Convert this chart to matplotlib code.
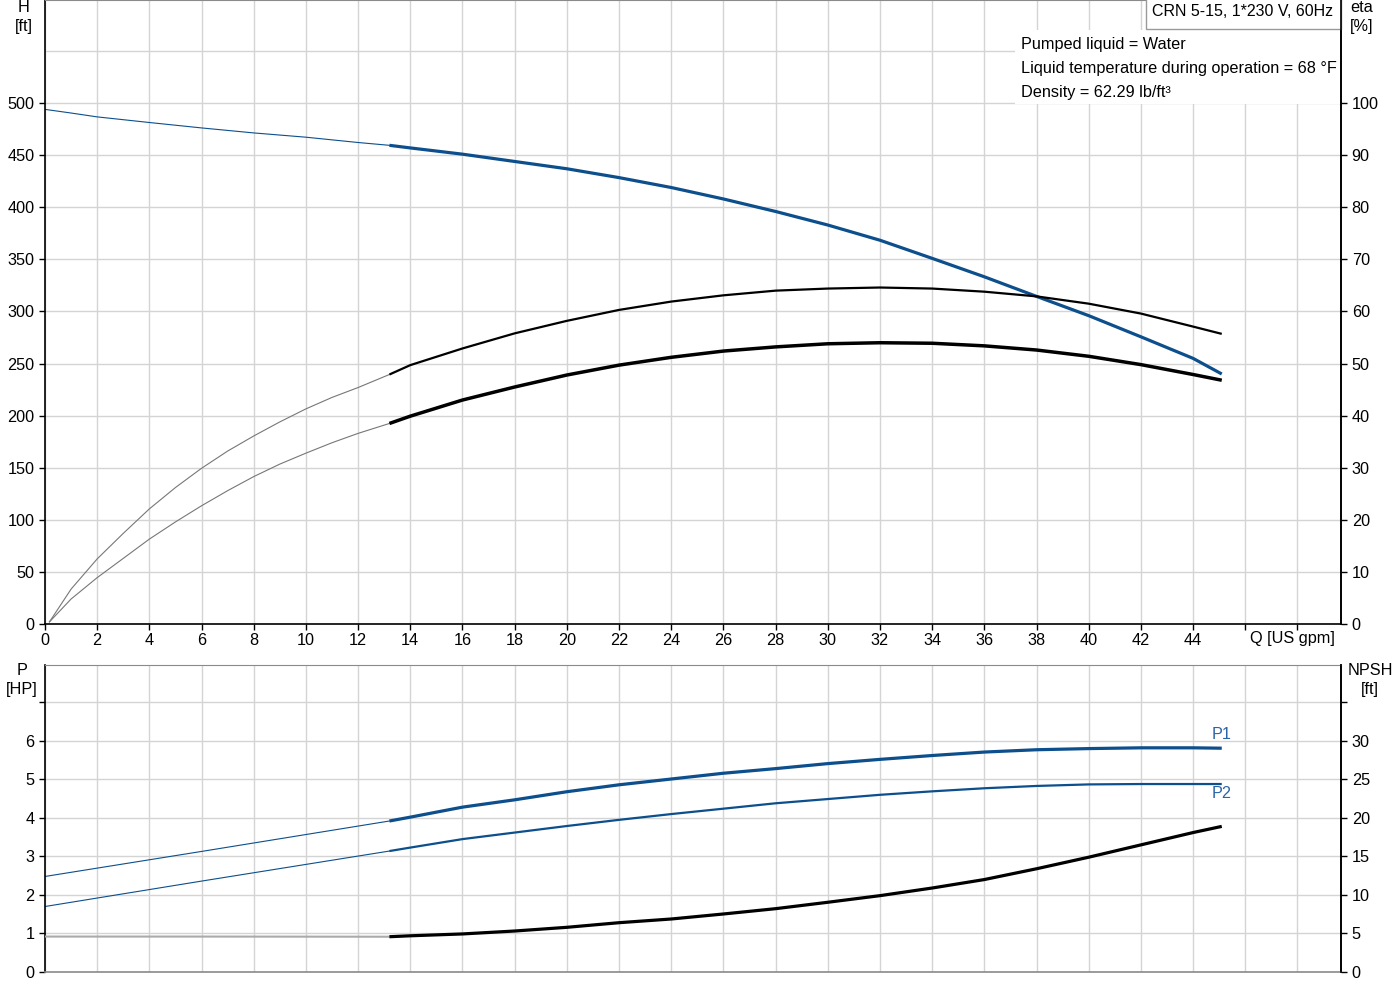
import numpy as np
import matplotlib
matplotlib.use("Agg")
import matplotlib.pyplot as plt
from matplotlib.patches import Rectangle

plt.rcParams['font.family'] = ['Liberation Sans', 'DejaVu Sans']
plt.rcParams['font.size'] = 11.7

# ================= data =================
q_thin = [0, 1, 2, 4, 6, 8, 10, 12, 13.2]
q_eta_thin = [0.17, 1, 2, 3, 4, 5, 6, 7, 8, 9, 10, 11, 12, 13.2]
q_thick = [13.2, 14, 16, 18, 20, 22, 24, 26, 28, 30, 32, 34, 36, 38, 40, 42, 44, 45.1]

# head [ft]
h_thin = [494, 490.5, 486.8, 481.4, 476.2, 471.4, 467.3, 462.2, 459.5]
h_thick = [459.5, 457, 451, 444, 437, 428.5, 419, 408, 396, 383, 368.4, 351,
           333.3, 314.5, 296, 275.7, 255, 240]

# efficiency [%]
eta_thin = [0.4, 6.7, 12.5, 17.4, 22.1, 26.2, 29.9, 33.2, 36.1, 38.8, 41.3, 43.5, 45.4, 47.9]
eta_thick = [47.9, 49.7, 52.9, 55.8, 58.2, 60.3, 61.9, 63.1, 64.0, 64.4, 64.6,
             64.4, 63.8, 62.9, 61.5, 59.6, 57.1, 55.7]
eta_tot_thin = [0.4, 4.8, 8.9, 12.6, 16.3, 19.6, 22.7, 25.6, 28.3, 30.7, 32.8, 34.8, 36.6, 38.5]
eta_tot_thick = [38.5, 39.9, 43.0, 45.5, 47.8, 49.7, 51.2, 52.4, 53.2, 53.8, 54.0,
                 53.9, 53.4, 52.6, 51.4, 49.8, 47.9, 46.8]

# power [HP]
q_p_thin = [0, 6, 13.2]
p1_thin = [2.48, 3.13, 3.92]
p1_thick = [3.92, 4.02, 4.28, 4.47, 4.68, 4.86, 5.01, 5.16, 5.28, 5.41, 5.52,
            5.62, 5.71, 5.77, 5.80, 5.82, 5.82, 5.81]
p2_thin = [1.70, 2.36, 3.14]
p2_thick = [3.14, 3.23, 3.45, 3.62, 3.79, 3.95, 4.10, 4.24, 4.38, 4.49, 4.60,
            4.69, 4.77, 4.83, 4.87, 4.88, 4.88, 4.88]

# NPSH [ft]
npsh_thin = [4.6, 4.6, 4.58]
npsh_thick = [4.58, 4.7, 4.94, 5.32, 5.8, 6.4, 6.88, 7.53, 8.22, 9.05, 9.91,
              10.9, 12.0, 13.4, 14.9, 16.5, 18.1, 18.9]

x_ticks = list(range(0, 50, 2))
x_labels = [str(v) if v <= 44 else "" for v in x_ticks]
info_lines = ["Pumped liquid = Water",
              "Liquid temperature during operation = 68 \u00b0F",
              "Density = 62.29 lb/ft\u00b3"]
title_txt = "CRN 5-15, 1*230 V, 60Hz"

# ================= style =================
W, H = 1400, 1000
BLUE = "#0c4f8c"
GRID = "#d4d4d4"
XMAX = 49.67
FS = 11.7


def fx(px):
    return px / W


def fy(py):
    return 1 - py / H


def style_axes(ax, axr, ylim, yticks, ylabels, rlim, rticks, rlabels):
    ax.set_xlim(0, XMAX)
    ax.set_ylim(*ylim)
    axr.set_ylim(*rlim)
    ax.set_xticks(x_ticks)
    ax.set_yticks(yticks)
    ax.set_yticklabels(ylabels)
    axr.set_yticks(rticks)
    axr.set_yticklabels(rlabels)
    ax.grid(True, color=GRID, lw=1.0)
    ax.set_axisbelow(True)
    ax.tick_params(direction="out", length=4.5, width=1, pad=3.2)
    axr.tick_params(direction="out", length=4.5, width=1, pad=3.2)
    for s in ["left", "right", "bottom"]:
        ax.spines[s].set_color("black")
        ax.spines[s].set_linewidth(1.2)
    ax.spines["top"].set_color("#8a8a8a")
    for s in ["left", "top", "bottom"]:
        axr.spines[s].set_visible(False)
    axr.spines["right"].set_color("black")
    axr.spines["right"].set_linewidth(1.2)


fig = plt.figure(figsize=(14, 10), dpi=100)

# ---------- top: H and eta ----------
ax1 = fig.add_axes([fx(45), fy(624), fx(1341) - fx(45), fy(0) - fy(624)])
ax1r = ax1.twinx()
style_axes(ax1, ax1r, (0, 599), list(range(0, 550, 50)), [str(v) for v in range(0, 550, 50)],
           (0, 119.8), list(range(0, 110, 10)), [str(v) for v in range(0, 110, 10)])
ax1.set_yticks([550], minor=True)
ax1.grid(True, which="minor", axis="y", color=GRID, lw=1.0)
ax1.tick_params(which="minor", length=0)
ax1.set_xticklabels(x_labels)
ax1.tick_params(axis="x", pad=2)

ax1.plot(q_thin, h_thin, color=BLUE, lw=0.8)
ax1.plot(q_thick, h_thick, color=BLUE, lw=2.3, solid_capstyle="butt")
ax1r.plot(q_eta_thin, eta_thin, color="#777777", lw=0.8)
ax1r.plot(q_thick, eta_thick, color="black", lw=1.6, solid_capstyle="butt")
ax1r.plot(q_eta_thin, eta_tot_thin, color="#777777", lw=0.8)
ax1r.plot(q_thick, eta_tot_thick, color="black", lw=2.5, solid_capstyle="butt")

# info block with white background
ax1.add_patch(Rectangle((fx(1015), fy(104)), fx(1340) - fx(1015), fy(30) - fy(104),
                        transform=fig.transFigure, facecolor="white", edgecolor="none",
                        zorder=1.5, clip_on=False))
for i, line in enumerate(info_lines):
    fig.text(fx(1021), fy(44 + 24 * i), line, ha="left", va="center", fontsize=FS)

ax1.add_patch(Rectangle((fx(1146), fy(29)), fx(1341) - fx(1146), fy(-2) - fy(29),
                        transform=fig.transFigure, facecolor="white", edgecolor="#9a9a9a",
                        lw=1.0, zorder=3, clip_on=False))
fig.text(fx(1243), fy(12), title_txt, ha="center", va="center", fontsize=11.5, zorder=4)

fig.text(fx(24), fy(0), "H\n[ft]", ha="center", va="top", fontsize=FS, linespacing=1.3)
fig.text(fx(1362), fy(0), "eta\n[%]", ha="center", va="top", fontsize=FS, linespacing=1.3)
fig.text(fx(1292), fy(639), "Q [US gpm]", ha="center", va="center", fontsize=FS)

# ---------- bottom: P and NPSH ----------
ax2 = fig.add_axes([fx(45), fy(972), fx(1341) - fx(45), fy(665) - fy(972)])
ax2r = ax2.twinx()
style_axes(ax2, ax2r, (0, 7.97), list(range(0, 8)), [str(v) if v < 7 else "" for v in range(0, 8)],
           (0, 39.85), list(range(0, 40, 5)), [str(v) if v < 35 else "" for v in range(0, 40, 5)])
ax2.set_xticklabels([])
ax2.tick_params(axis="x", length=0)
ax2.spines["bottom"].set_color("#8a8a8a")
ax2.spines["top"].set_color("#8a8a8a")

ax2.plot(q_p_thin, p1_thin, color=BLUE, lw=0.8)
ax2.plot(q_thick, p1_thick, color=BLUE, lw=2.3, solid_capstyle="butt")
ax2.plot(q_p_thin, p2_thin, color=BLUE, lw=0.8)
ax2.plot(q_thick, p2_thick, color=BLUE, lw=1.6, solid_capstyle="butt")
ax2r.plot(q_p_thin, npsh_thin, color="#aaaaaa", lw=1.5)
ax2r.plot(q_thick, npsh_thick, color="black", lw=2.3, solid_capstyle="butt")

ax2.annotate("P1", (q_thick[-1], p1_thick[-1]), xytext=(0, 10), textcoords="offset points",
             ha="center", va="center", color="#2a64a8", fontsize=FS)
ax2.annotate("P2", (q_thick[-1], p2_thick[-1]), xytext=(0, -7), textcoords="offset points",
             ha="center", va="center", color="#2a64a8", fontsize=FS)

fig.text(fx(22), fy(663), "P\n[HP]", ha="center", va="top", fontsize=FS, linespacing=1.3)
fig.text(fx(1370), fy(663), "NPSH\n[ft]", ha="center", va="top", fontsize=FS, linespacing=1.3)

fig.savefig("out.png", dpi=100, facecolor="white")
